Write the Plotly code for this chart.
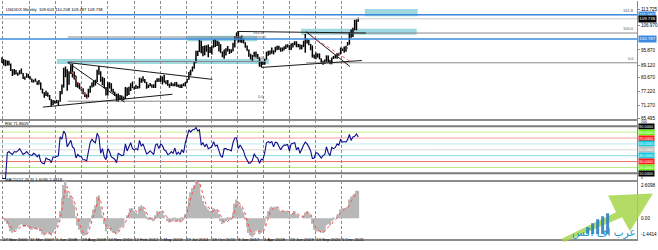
import plotly.graph_objects as go
import pandas as pd

# ---------------- data (monthly samples, Nov 2005 .. Sep 2022) ----------------
months = pd.date_range("2005-11-01", periods=203, freq="MS") + pd.Timedelta(days=14)

close = [91.4, 91.2,
    89.2, 90.5, 89.5, 86.9, 85.6, 85.4, 85.3, 85.3, 86.2, 85.4, 83.3, 83.7,
    84.7, 83.6, 82.9, 81.6, 82.4, 81.9, 80.5, 81.2, 78.3, 76.6, 76.1, 76.7,
    75.3, 73.7, 71.9, 73.0, 72.6, 72.5, 73.2, 77.1, 79.3, 84.9, 86.4, 81.3,
    85.6, 88.4, 85.4, 84.3, 79.6, 80.0, 78.6, 78.3, 76.6, 76.0, 75.0, 77.9,
    79.5, 80.4, 81.0, 81.8, 86.5, 86.0, 81.9, 83.1, 79.0, 77.0, 81.1, 79.1,
    77.5, 76.8, 76.0, 73.0, 74.6, 74.3, 74.0, 74.2, 78.5, 76.2, 78.3, 80.2,
    79.0, 78.9, 79.0, 78.8, 83.2, 81.6, 82.4, 81.3, 79.9, 79.8, 80.2, 79.8,
    79.2, 82.0, 82.9, 81.9, 83.2, 83.1, 81.5, 82.0, 80.2, 80.2, 80.7, 80.0,
    81.3, 79.7, 80.1, 79.5, 80.4, 79.8, 81.5, 82.8, 86.0, 86.9, 88.4, 90.3,
    94.8, 95.3, 98.4, 94.6, 96.9, 95.5, 97.3, 96.0, 96.4, 97.0, 100.2, 98.6,
    99.6, 98.2, 94.6, 93.1, 95.9, 96.1, 95.5, 96.0, 95.4, 98.4, 101.5, 102.2,
    99.5, 101.1, 100.3, 99.0, 97.0, 95.6, 92.9, 92.7, 93.1, 94.5, 93.0, 92.1,
    89.1, 90.6, 90.0, 91.8, 94.0, 94.5, 94.5, 95.1, 95.1, 97.1, 97.3, 96.2,
    95.6, 96.2, 97.3, 97.5, 97.8, 96.1, 98.5, 98.9, 99.4, 97.4, 98.3, 96.4,
    97.4, 98.1, 99.0, 99.0, 98.3, 97.4, 93.3, 92.1, 93.9, 94.0, 91.9, 89.9,
    90.6, 90.9, 93.2, 91.3, 90.0, 92.4, 92.2, 92.6, 94.2, 94.1, 96.0, 95.7,
    96.5, 96.7, 98.3, 103.0, 101.8, 104.7, 105.9, 108.7, 109.7]

high = [92.6, 91.8,
    91.4, 91.2, 91.0, 89.8, 87.2, 87.4, 86.9, 85.8, 86.8, 87.6, 85.6, 84.0,
    85.5, 85.1, 84.1, 83.0, 82.6, 83.1, 81.9, 82.5, 81.3, 78.6, 77.0, 77.7,
    76.9, 75.8, 73.9, 73.5, 73.3, 73.6, 73.3, 77.6, 80.4, 87.9, 88.5, 87.2,
    86.4, 89.0, 89.6, 86.2, 84.3, 81.4, 81.1, 79.3, 78.8, 77.0, 76.0, 78.5,
    79.9, 81.3, 82.1, 82.6, 87.0, 88.7, 86.4, 83.9, 83.4, 79.3, 81.5, 81.4,
    81.0, 78.6, 77.2, 76.3, 76.4, 75.8, 75.6, 75.1, 79.3, 79.1, 79.5, 81.0,
    81.8, 79.5, 80.3, 79.8, 83.5, 83.1, 84.1, 82.9, 81.6, 80.4, 81.1, 80.5,
    80.6, 82.2, 83.2, 83.2, 84.5, 84.0, 84.8, 82.2, 82.5, 80.8, 81.5, 80.9,
    81.5, 81.4, 80.5, 80.4, 80.6, 81.0, 81.6, 82.9, 86.0, 86.9, 88.4, 90.4,
    95.5, 95.5, 100.4, 100.0, 97.6, 97.8, 98.0, 98.3, 97.2, 97.8, 100.5, 100.6,
    99.9, 99.4, 98.4, 95.2, 95.9, 96.6, 97.6, 96.3, 96.0, 99.1, 102.1, 103.6,
    103.8, 101.8, 102.3, 101.0, 99.3, 97.8, 96.0, 94.2, 93.6, 95.1, 95.2, 94.0,
    92.6, 90.9, 90.7, 91.9, 95.0, 95.5, 95.6, 96.9, 95.7, 97.2, 97.7, 97.7,
    96.9, 96.9, 97.4, 98.3, 98.4, 98.0, 98.7, 99.0, 99.7, 99.7, 98.5, 98.3,
    98.2, 99.9, 103.0, 100.9, 100.4, 98.5, 97.8, 93.8, 94.7, 94.3, 94.3, 92.0,
    91.0, 91.6, 93.4, 93.4, 91.4, 92.4, 93.2, 93.7, 94.5, 94.6, 96.9, 96.5,
    97.4, 97.7, 99.4, 103.9, 105.0, 105.8, 109.3, 109.5, 110.2]

low = [90.0, 88.9,
    88.6, 88.9, 88.9, 86.5, 84.2, 84.8, 84.9, 84.4, 84.9, 85.2, 82.9, 82.6,
    83.6, 83.3, 82.7, 81.4, 81.3, 81.8, 80.3, 80.4, 78.1, 76.5, 74.5, 75.3,
    75.0, 73.5, 70.7, 71.3, 72.0, 72.1, 71.3, 72.8, 76.1, 79.1, 83.7, 77.7,
    80.3, 85.1, 83.6, 82.7, 79.3, 79.0, 78.4, 77.7, 76.1, 74.9, 74.2, 74.8,
    76.8, 79.1, 79.4, 80.0, 81.6, 84.8, 81.7, 80.1, 78.8, 75.6, 75.6, 78.7,
    77.2, 76.6, 75.3, 72.9, 72.7, 73.5, 73.4, 73.4, 74.0, 75.3, 75.8, 77.6,
    78.9, 78.1, 78.4, 78.7, 78.9, 81.2, 81.8, 81.1, 78.6, 78.9, 79.7, 79.0,
    78.9, 78.9, 81.6, 81.7, 81.7, 80.5, 81.3, 80.6, 79.9, 79.0, 79.8, 79.7,
    79.7, 79.6, 79.2, 78.9, 78.9, 79.8, 79.7, 81.2, 82.6, 84.5, 86.3, 87.5,
    90.1, 93.2, 94.9, 94.4, 93.1, 93.5, 95.0, 92.6, 94.5, 93.8, 96.9, 97.2,
    97.6, 95.2, 94.6, 92.6, 91.9, 93.4, 95.2, 94.1, 94.5, 95.3, 96.9, 100.5,
    99.2, 99.2, 99.0, 98.8, 96.9, 95.5, 92.8, 91.6, 91.0, 92.8, 92.5, 91.9,
    88.4, 88.3, 89.1, 89.2, 91.6, 93.3, 93.7, 94.2, 93.8, 94.8, 95.7, 95.9,
    95.0, 95.2, 95.7, 96.3, 97.0, 95.8, 95.8, 97.0, 97.9, 97.1, 97.1, 96.1,
    96.2, 97.2, 94.6, 98.8, 97.9, 95.7, 92.5, 92.1, 91.7, 92.5, 91.7, 89.7,
    89.2, 89.7, 90.6, 90.4, 89.5, 89.5, 91.8, 92.1, 91.9, 93.3, 93.9, 95.4,
    94.6, 95.1, 97.7, 98.3, 101.3, 101.6, 104.7, 104.6, 108.4]

rsi = [1, 1,
    1, 45, 47, 44, 42, 47, 46, 48, 52, 47, 42, 44,
    47, 43, 41, 40, 44, 42, 38, 42, 30, 27, 26, 36,
    34, 33, 28, 38, 37, 38, 40, 72, 68, 82, 77, 55,
    62, 66, 55, 52, 36, 42, 39, 38, 33, 33, 31, 50,
    62, 68, 64, 62, 78, 72, 44, 52, 38, 33, 52, 47,
    38, 36, 34, 28, 44, 42, 40, 41, 60, 48, 56, 62,
    52, 50, 52, 50, 66, 56, 60, 50, 43, 45, 48, 45,
    42, 58, 60, 52, 60, 57, 50, 48, 42, 43, 47, 44,
    53, 42, 46, 42, 50, 45, 62, 72, 84, 80, 84, 84,
    88, 82, 84, 58, 62, 55, 60, 52, 53, 55, 64, 56,
    58, 50, 40, 37, 52, 52, 50, 50, 48, 62, 70, 70,
    52, 58, 53, 48, 38, 33, 27, 28, 32, 43, 38, 36,
    27, 34, 33, 45, 62, 64, 62, 64, 55, 63, 62, 56,
    50, 55, 58, 58, 59, 48, 60, 61, 62, 50, 54, 44,
    52, 58, 63, 60, 55, 48, 35, 36, 45, 44, 40, 36,
    40, 42, 55, 45, 40, 54, 52, 54, 60, 58, 68, 63,
    64, 63, 67, 76, 66, 72, 73, 77, 72]

macd_main = [0.0, 0.0,
    -0.2, -0.4, -0.6, -0.9, -1.0, -0.9, -0.8, -0.7, -0.5, -0.4, -0.5, -0.6,
    -0.5, -0.6, -0.7, -0.8, -0.7, -0.7, -0.8, -0.7, -0.9, -1.1, -1.2, -1.0,
    -1.0, -1.1, -1.2, -1.0, -0.8, -0.6, -0.3, 0.5, 1.4, 2.3, 2.6, 1.9,
    1.4, 1.6, 1.3, 0.9, 0.1, -0.5, -0.8, -1.0, -1.2, -1.2, -1.1, -0.7,
    -0.3, 0.2, 0.6, 0.9, 1.5, 1.6, 0.8, 0.2, -0.4, -0.9, -0.7, -0.6,
    -0.9, -1.0, -1.0, -1.1, -0.9, -0.7, -0.6, -0.5, 0.0, 0.2, 0.4, 0.7,
    0.7, 0.5, 0.4, 0.3, 0.8, 0.9, 0.8, 0.5, 0.1, -0.1, -0.1, -0.1,
    -0.2, 0.2, 0.5, 0.4, 0.5, 0.5, 0.2, 0.0, -0.2, -0.3, -0.2, -0.2,
    -0.1, -0.2, -0.2, -0.3, -0.1, -0.1, 0.3, 0.8, 1.4, 1.8, 2.1, 2.3,
    2.6, 2.5, 2.4, 1.6, 1.2, 0.9, 0.8, 0.6, 0.5, 0.4, 0.7, 0.6,
    0.6, 0.3, -0.2, -0.4, -0.3, -0.2, -0.1, -0.1, -0.1, 0.4, 1.0, 1.3,
    1.1, 0.9, 0.7, 0.4, -0.1, -0.6, -1.0, -1.2, -1.3, -1.0, -0.9, -0.8,
    -1.1, -1.0, -0.9, -0.5, 0.1, 0.5, 0.7, 0.8, 0.7, 0.8, 0.8, 0.6,
    0.5, 0.5, 0.5, 0.5, 0.5, 0.3, 0.3, 0.4, 0.5, 0.3, 0.2, 0.0,
    0.0, 0.2, 0.4, 0.5, 0.4, 0.2, -0.4, -0.8, -0.9, -0.9, -0.9, -1.0,
    -1.0, -0.9, -0.5, -0.4, -0.5, -0.2, -0.1, 0.0, 0.2, 0.3, 0.6, 0.7,
    0.7, 0.7, 0.8, 1.3, 1.5, 1.6, 1.7, 1.9, 1.9]

macd_signal = [0.0, 0.0,
    -0.1, -0.2, -0.4, -0.6, -0.8, -0.9, -0.9, -0.8, -0.7, -0.5, -0.5, -0.5,
    -0.5, -0.6, -0.6, -0.7, -0.7, -0.7, -0.7, -0.7, -0.8, -0.9, -1.0, -1.1,
    -1.0, -1.0, -1.1, -1.1, -1.0, -0.8, -0.5, -0.1, 0.6, 1.4, 2.1, 2.2,
    1.8, 1.6, 1.4, 1.2, 0.7, 0.1, -0.4, -0.7, -1.0, -1.1, -1.1, -1.0,
    -0.6, -0.2, 0.2, 0.6, 1.0, 1.4, 1.2, 0.6, 0.0, -0.5, -0.7, -0.7,
    -0.7, -0.9, -1.0, -1.0, -1.0, -0.8, -0.7, -0.6, -0.3, 0.0, 0.2, 0.5,
    0.6, 0.6, 0.5, 0.4, 0.5, 0.7, 0.8, 0.7, 0.4, 0.1, 0.0, -0.1,
    -0.1, 0.0, 0.2, 0.4, 0.4, 0.5, 0.4, 0.2, 0.0, -0.2, -0.2, -0.2,
    -0.2, -0.2, -0.2, -0.2, -0.2, -0.1, 0.1, 0.4, 0.9, 1.4, 1.8, 2.1,
    2.4, 2.5, 2.5, 2.1, 1.6, 1.2, 0.9, 0.8, 0.6, 0.5, 0.5, 0.6,
    0.6, 0.5, 0.2, -0.1, -0.3, -0.3, -0.2, -0.1, -0.1, 0.1, 0.5, 1.0,
    1.1, 1.0, 0.9, 0.6, 0.3, -0.2, -0.6, -0.9, -1.1, -1.1, -1.0, -0.9,
    -0.9, -1.0, -0.9, -0.8, -0.4, 0.1, 0.4, 0.6, 0.7, 0.7, 0.8, 0.7,
    0.6, 0.5, 0.5, 0.5, 0.5, 0.4, 0.3, 0.3, 0.4, 0.4, 0.3, 0.1,
    0.1, 0.1, 0.2, 0.4, 0.4, 0.3, 0.0, -0.4, -0.7, -0.8, -0.9, -0.9,
    -1.0, -0.9, -0.8, -0.6, -0.5, -0.4, -0.2, -0.1, 0.0, 0.2, 0.4, 0.5,
    0.6, 0.7, 0.7, 0.9, 1.2, 1.4, 1.5, 1.7, 1.8]

price_ticks = [113.725, 106.970, 95.870, 89.120, 83.670, 77.220, 71.270, 65.495]
price_tick_text = ["113.725", "106.970", "95.870", "89.120", "83.670", "77.220", "71.270", "65.495"]

date_ticks = ["2005-11-27", "2007-03-11", "2008-06-01", "2009-08-23", "2010-11-14",
              "2012-02-12", "2013-05-05", "2014-07-27", "2015-10-18", "2017-01-08",
              "2018-04-01", "2019-06-23", "2020-09-13", "2021-12-05"]
date_tick_text = ["27 Nov 2005", "11 Mar 2007", "1 Jun 2008", "23 Aug 2009", "14 Nov 2010",
                  "12 Feb 2012", "5 May 2013", "27 Jul 2014", "18 Oct 2015", "8 Jan 2017",
                  "1 Apr 2018", "23 Jun 2019", "13 Sep 2020", "5 Dec 2021"]

rsi_levels = [90, 80, 70, 60, 50, 40, 30, 20, 10]
rsi_level_text = ["90.0000", "80.0000", "70.0000", "60.0000", "50.0000",
                  "40.0000", "30.0000", "20.0000", "10.0000"]

blue_levels = [111.582, 100.787]
blue_level_text = ["111.582", "100.787"]
last_price = 109.738
last_price_text = "109.738"

macd_scale = [-1.4414, 2.6098]

# Fibonacci retracements: (start, end, level names, prices)
fib_old = ("2008-12-24", "2018-05-10", ["0.0", "100.0", "161.8"], [73.01, 90.70, 101.63])
fib_new = ("2020-03-28", "2035-11-16", ["0.0", "100.0", "161.8"], [90.13, 103.40, 111.60])

# support / resistance zones: (start, end, low, high)
zones = [("2008-06-18", "2018-06-30", 89.60, 91.81),
         ("2014-08-20", "2017-12-06", 99.77, 102.20),
         ("2020-01-02", "2025-06-19", 102.65, 105.30),
         ("2023-01-07", "2025-07-06", 110.83, 114.15)]

# trend lines: (date0, price0, date1, price1)
trend_black = [("2008-12-24", 90.26, "2015-10-24", 82.74),
               ("2008-12-24", 90.26, "2011-09-01", 72.57),
               ("2007-10-21", 70.36, "2013-12-05", 76.11),
               ("2016-12-27", 104.10, "2023-01-24", 103.40),
               ("2020-03-28", 103.97, "2022-04-24", 88.49),
               ("2018-02-13", 88.05, "2022-11-16", 91.15)]
trend_red = [("2009-03-03", 86.28, "2009-12-03", 73.90),
             ("2020-07-09", 101.76, "2022-05-28", 90.26)]

x_range = ["2005-10-12", "2035-11-16"]

# ---------------- figure ----------------
W, H, R = 658, 250, 19
PW = W - R
FONT = "Liberation Sans"
FS = 4.6      # axis labels
FT = 4.2      # header / date texts

opens = [close[0]] + close[:-1]

fig = go.Figure()
fig.add_trace(go.Ohlc(x=months, open=opens, high=high, low=low, close=close,
                      increasing=dict(line=dict(color="black", width=1.5)),
                      decreasing=dict(line=dict(color="black", width=1.5)),
                      tickwidth=0.3, xaxis="x", yaxis="y", hoverinfo="skip"))
fig.add_trace(go.Scatter(x=months, y=rsi, mode="lines",
                         line=dict(color="#0d0d8c", width=1.1),
                         xaxis="x2", yaxis="y2", hoverinfo="skip"))
fig.add_trace(go.Bar(x=months, y=macd_main, marker=dict(color="#b8b8b8", line=dict(width=0)),
                     width=31 * 86400000, xaxis="x3", yaxis="y3", hoverinfo="skip"))
fig.add_trace(go.Scatter(x=months, y=macd_signal, mode="lines",
                         line=dict(color="#ff4a4a", width=1, dash="dot"),
                         xaxis="x3", yaxis="y3", hoverinfo="skip"))

def py(px):
    return (H - px) / H

xcommon = dict(type="date", range=x_range, showgrid=True, tickvals=date_ticks,
               showticklabels=False, ticks="", gridcolor="#8a8a8a", gridwidth=1,
               griddash="3px,2px", showline=True, linecolor="#8c8c8c", linewidth=2,
               zeroline=False, fixedrange=True)
ycommon = dict(side="right", showgrid=False, zeroline=False, showline=True,
               linecolor="#8c8c8c", linewidth=1, fixedrange=True)

fig.update_layout(
    width=W, height=H, margin=dict(l=0, r=R, t=0, b=0),
    paper_bgcolor="white", plot_bgcolor="white", showlegend=False, hovermode=False,
    font=dict(family=FONT, size=FS, color="black"),
    xaxis=dict(**xcommon, domain=[0, 1], anchor="y", rangeslider=dict(visible=False)),
    xaxis2=dict(**xcommon, domain=[0, 1], anchor="y2", matches="x"),
    xaxis3=dict(**xcommon, domain=[0, 1], anchor="y3", matches="x"),
    yaxis=dict(**ycommon, domain=[py(120), py(1)], range=[65.053, 117.68], anchor="x",
               tickvals=price_ticks, ticktext=price_tick_text, ticks="outside", ticklen=2,
               tickcolor="#8c8c8c", tickfont=dict(size=FS, family=FONT, color="black")),
    yaxis2=dict(**ycommon, domain=[py(181), py(121)], range=[-0.68, 100.68], anchor="x2",
                showticklabels=False),
    yaxis3=dict(**ycommon, domain=[py(241), py(182)], range=macd_scale, anchor="x3",
                showticklabels=False),
)

shapes = []
ann = []

# zones
for x0, x1, y0, y1 in zones:
    shapes.append(dict(type="rect", xref="x", yref="y", x0=x0, x1=x1, y0=y0, y1=y1,
                       fillcolor="#9fd8e0", line=dict(width=0), layer="below"))

# current price line
shapes.append(dict(type="line", xref="paper", yref="y", x0=0, x1=1, y0=last_price, y1=last_price,
                   line=dict(color="#c8c8c8", width=1)))
# fibonacci
for (x0, x1, names, prices), lab_x in ((fib_old, None), (fib_new, 0.998)):
    for nm, pr in zip(names, prices):
        shapes.append(dict(type="line", xref="x", yref="y", x0=x0, x1=x1, y0=pr, y1=pr,
                           line=dict(color="#8a8a8a", width=1)))
        if lab_x is None:
            ann.append(dict(x=x1, y=pr, xref="x", yref="y", text=nm, showarrow=False,
                            xanchor="right", yanchor="bottom", font=dict(size=4.0, color="#505050")))
        else:
            ann.append(dict(x=lab_x, y=pr, xref="paper", yref="y", text=nm, showarrow=False,
                            xanchor="right", yanchor="bottom", font=dict(size=4.0, color="#505050")))
# blue levels
for lv in blue_levels:
    shapes.append(dict(type="line", xref="paper", yref="y", x0=0, x1=1, y0=lv, y1=lv,
                       line=dict(color="#3d8be0", width=1.5)))
# trend lines
for x0, y0, x1, y1 in trend_black:
    shapes.append(dict(type="line", xref="x", yref="y", x0=x0, y0=y0, x1=x1, y1=y1,
                       line=dict(color="#1a1a1a", width=1)))
for x0, y0, x1, y1 in trend_red:
    shapes.append(dict(type="line", xref="x", yref="y", x0=x0, y0=y0, x1=x1, y1=y1,
                       line=dict(color="#ff5a5a", width=1, dash="dot")))

# RSI levels
rsi_line_colors = ["#7a7a7a", "#c8f08e", "#f2a0a0", "#bdebf1", "#d8d8d8",
                   "#86d8e2", "#ee7070", "#b8ea7e", "#7a7a7a"]
rsi_line_widths = [2, 1, 1, 1, 1, 1, 1, 1, 2]
rsi_box_colors = ["#000000", "#6ef01a", "#ff1a1a", "#12c8dc", "#bdbdbd",
                  "#12c8dc", "#ff1a1a", "#6ef01a", "#000000"]
for lv, txt, lc, lw, bc in zip(rsi_levels, rsi_level_text, rsi_line_colors, rsi_line_widths, rsi_box_colors):
    shapes.append(dict(type="line", xref="paper", yref="y2", x0=0, x1=1, y0=lv, y1=lv,
                       line=dict(color=lc, width=lw), layer="below"))
    ann.append(dict(x=1, y=lv, xref="paper", yref="y2", text=txt, showarrow=False,
                    xanchor="left", xshift=1, bgcolor=bc, borderpad=0.1,
                    font=dict(size=3.9, color="white")))
ann.append(dict(x=1, y=100, xref="paper", yref="y2", text="100", showarrow=False,
                xanchor="left", yanchor="middle", xshift=2, yshift=-1.7, font=dict(size=3.5)))
ann.append(dict(x=1, y=0, xref="paper", yref="y2", text="0", showarrow=False,
                xanchor="left", yanchor="middle", xshift=2, yshift=1.5, font=dict(size=3.5)))

# MACD scale labels
ann.append(dict(x=1, y=macd_scale[1], xref="paper", yref="y3", text="2.6098", showarrow=False,
                xanchor="left", yanchor="top", xshift=2, font=dict(size=FS)))
ann.append(dict(x=1, y=0, xref="paper", yref="y3", text="0.00", showarrow=False,
                xanchor="left", xshift=2, font=dict(size=FS)))
ann.append(dict(x=1, y=macd_scale[0], xref="paper", yref="y3", text="-1.4414", showarrow=False,
                xanchor="left", yanchor="bottom", xshift=2, font=dict(size=FS)))

# price boxes
for lv, txt in zip(blue_levels, blue_level_text):
    ann.append(dict(x=1, y=lv, xref="paper", yref="y", text=txt, showarrow=False,
                    xanchor="left", xshift=1, bgcolor="#3d8be0", borderpad=0.3,
                    font=dict(size=4.4, color="white")))
ann.append(dict(x=1, y=last_price, xref="paper", yref="y", text=last_price_text, showarrow=False,
                xanchor="left", xshift=1, bgcolor="#000000", borderpad=0.3,
                font=dict(size=4.4, color="white")))

# headers
ann.append(dict(x=0.006, y=py(5), xref="paper", yref="paper", showarrow=False, xanchor="left",
                text="USDIDX,Weekly  109.603 110.208 109.487 109.738", font=dict(size=FT)))
ann.append(dict(x=0.004, y=py(124.5), xref="paper", yref="paper", showarrow=False, xanchor="left",
                text="RSI 71.8609", font=dict(size=FT)))
ann.append(dict(x=0.004, y=py(185.5), xref="paper", yref="paper", showarrow=False, xanchor="left",
                text="MACD(12,26,9) 1.6090 2.4818", font=dict(size=FT)))

# date labels
for d, t in zip(date_ticks, date_tick_text):
    ann.append(dict(x=d, y=py(246), xref="x", yref="paper", text=t, showarrow=False,
                    xanchor="left", xshift=-2, font=dict(size=4.3)))

# logo (decoration)
def P(px, pyy):
    return f"{px / PW:.4f},{(H - pyy) / H:.4f}"
arrow_pts = [(563, 241), (618, 214), (610, 197), (655, 195), (632, 233), (624, 219), (566, 244)]
shapes.append(dict(type="path", xref="paper", yref="paper",
                   path="M " + " L ".join(P(*p) for p in arrow_pts) + " Z",
                   fillcolor="#a6d64a", opacity=0.85, line=dict(width=0)))
for bx, btop in [(588, 229), (593, 225), (598, 221), (603, 218), (608, 215)]:
    shapes.append(dict(type="rect", xref="paper", yref="paper",
                       x0=bx / PW, x1=(bx + 3) / PW, y0=(H - 236) / H, y1=(H - btop) / H,
                       fillcolor="#2d80c2", line=dict(width=0), opacity=0.9))
ann.append(dict(x=600 / PW, y=py(243), xref="paper", yref="paper", showarrow=False,
                xshift=40, text="عرب اف اكس",
                font=dict(size=10.5, color="#2294cc", family="DejaVu Sans")))

fig.update_layout(shapes=shapes, annotations=ann)
fig.write_html("out.html")
